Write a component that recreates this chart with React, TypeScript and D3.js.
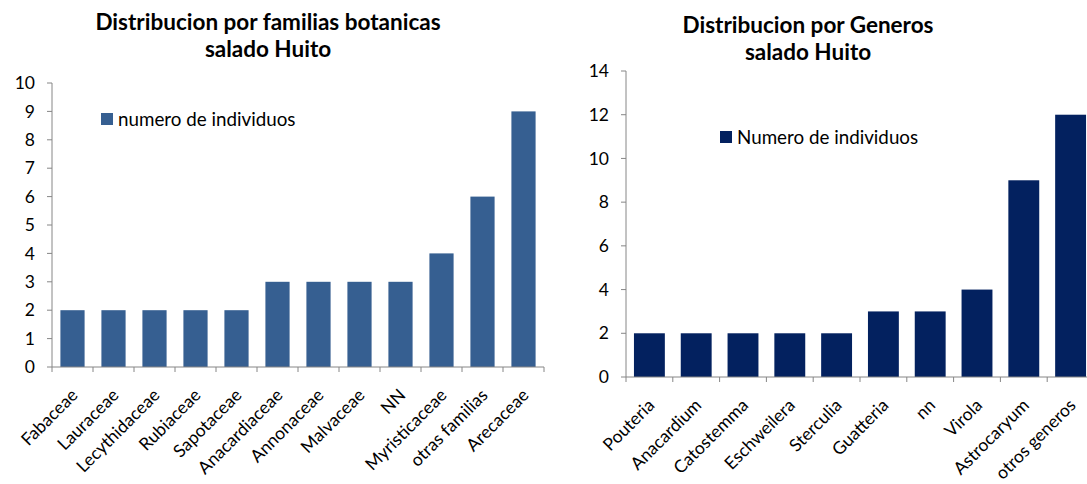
import React from "react";
import * as d3 from "d3";

const familias = ["Fabaceae","Lauraceae","Lecythidaceae","Rubiaceae","Sapotaceae","Anacardiaceae","Annonaceae","Malvaceae","NN","Myristicaceae","otras familias","Arecaceae"];
const familiasValues = [2,2,2,2,2,3,3,3,3,4,6,9];
const familiasTicks = [0,1,2,3,4,5,6,7,8,9,10];

const generos = ["Pouteria","Anacardium","Catostemma","Eschweilera","Sterculia","Guatteria","nn","Virola","Astrocaryum","otros generos"];
const generosValues = [2,2,2,2,2,3,3,4,9,12];
const generosTicks = [0,2,4,6,8,10,12,14];

const FONT = "Lato, 'Open Sans', sans-serif";

type ChartProps = {
  cats: string[]; vals: number[]; ticks: number[]; max: number;
  x0: number; x1: number; yTop: number; yBottom: number; padding: number;
  color: string; title: string[]; titleX: number; titleY: number[];
  legend: string; legendX: number; legendY: number;
};

function Chart(p: ChartProps) {
  const x = d3.scaleBand<string>().domain(p.cats).range([p.x0, p.x1]).paddingInner(p.padding).paddingOuter(p.padding / 2);
  const y = d3.scaleLinear().domain([0, p.max]).range([p.yBottom, p.yTop]);
  const step = x.step();
  const axisColor = "#868686";
  return (
    <g>
      {p.title.map((t, i) => (
        <text key={i} x={p.titleX} y={p.titleY[i]} textAnchor="middle" fontFamily={FONT} fontWeight="bold" fontSize={22.5} fill="#000">{t}</text>
      ))}
      {p.cats.map((c, i) => (
        <rect key={c} x={x(c)} y={y(p.vals[i])} width={x.bandwidth()} height={p.yBottom - y(p.vals[i])} fill={p.color} />
      ))}
      <line x1={p.x0} x2={p.x0} y1={p.yTop} y2={p.yBottom} stroke={axisColor} strokeWidth={1} />
      {p.ticks.map(t => (
        <g key={t}>
          <line x1={p.x0 - 5} x2={p.x0} y1={y(t)} y2={y(t)} stroke={axisColor} />
          <text x={p.x0 - 17} y={y(t)} dy="0.35em" textAnchor="end" fontFamily={FONT} fontSize={17.5} fill="#000">{t}</text>
        </g>
      ))}
      <line x1={p.x0} x2={p.x1} y1={p.yBottom} y2={p.yBottom} stroke={axisColor} />
      {d3.range(p.cats.length + 1).map(i => (
        <line key={i} x1={p.x0 + i * step} x2={p.x0 + i * step} y1={p.yBottom} y2={p.yBottom + 5} stroke={axisColor} />
      ))}
      {p.cats.map(c => {
        const cx = (x(c) as number) + x.bandwidth() / 2 + 2;
        const cy = p.yBottom + 25;
        return (
          <text key={c} x={cx} y={cy} dy="0.35em" textAnchor="end" transform={`rotate(-45 ${cx} ${cy})`} fontFamily={FONT} fontSize={17.5} fill="#000">{c}</text>
        );
      })}
      <rect x={p.legendX} y={p.legendY - 6} width={12} height={12} fill={p.color} />
      <text x={p.legendX + 17} y={p.legendY} dy="0.35em" fontFamily={FONT} fontSize={18.8} fill="#000">{p.legend}</text>
    </g>
  );
}

export default function App() {
  return (
    <svg width={1087} height={484} style={{ position: "absolute", left: 0, top: 0, background: "#fff" }}>
      <rect width={1087} height={484} fill="#fff" />
      <Chart cats={familias} vals={familiasValues} ticks={familiasTicks} max={10}
        x0={52} x1={544} yTop={83} yBottom={367} padding={0.41}
        color="#365F91" title={["Distribucion por familias botanicas", "salado Huito"]}
        titleX={268} titleY={[30, 57]}
        legend="numero de individuos" legendX={101} legendY={119} />
      <Chart cats={generos} vals={generosValues} ticks={generosTicks} max={14}
        x0={626} x1={1094} yTop={71} yBottom={377} padding={0.34}
        color="#03215F" title={["Distribucion por Generos", "salado Huito"]}
        titleX={808} titleY={[33, 60]}
        legend="Numero de individuos" legendX={720} legendY={137} />
    </svg>
  );
}
